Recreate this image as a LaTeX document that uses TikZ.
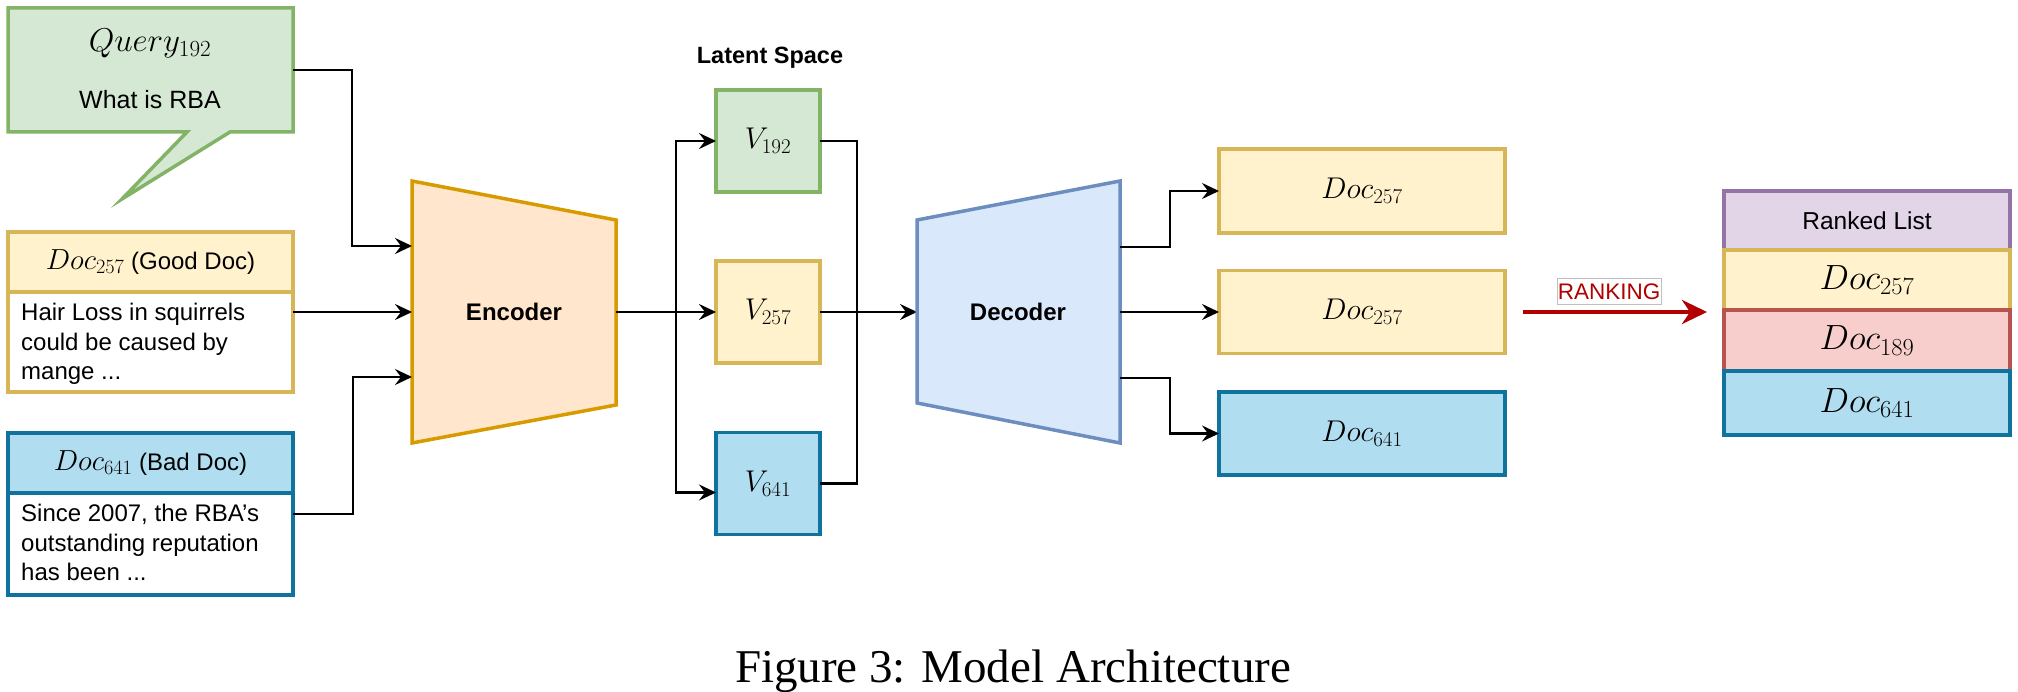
\RequirePackage{fix-cm}
\documentclass[tikz,border=0pt]{standalone}
\usepackage[no-math]{fontspec}
\setmainfont{Liberation Sans}
\newfontfamily\capfont{Liberation Serif}
\usetikzlibrary{arrows.meta,calc}

\definecolor{grnF}{HTML}{D5E8D4}\definecolor{grnS}{HTML}{82B366}
\definecolor{ylwF}{HTML}{FFF2CC}\definecolor{ylwS}{HTML}{D6B656}
\definecolor{bluF}{HTML}{B1DDF0}\definecolor{bluS}{HTML}{10739E}
\definecolor{encF}{HTML}{FFE6CC}\definecolor{encS}{HTML}{D79B00}
\definecolor{decF}{HTML}{DAE8FC}\definecolor{decS}{HTML}{6C8EBF}
\definecolor{purF}{HTML}{E1D5E7}\definecolor{purS}{HTML}{9673A6}
\definecolor{redF}{HTML}{F8CECC}\definecolor{redS}{HTML}{B85450}
\definecolor{rankR}{HTML}{B20000}

\tikzset{
  conn/.style={line width=2.5pt, -{Stealth[length=17pt,width=16pt,inset=6pt]}},
  plainln/.style={line width=2.5pt},
  boxst/.style={draw, line width=3.5pt, inner sep=0pt, outer sep=0pt},
  txt/.style={font={\fontsize{24}{29.5}\selectfont}},
  mth/.style={font={\fontsize{30}{36}\selectfont}},
  bigmth/.style={font={\fontsize{35}{42}\selectfont}},
  boldlab/.style={font={\bfseries\fontsize{24}{29}\selectfont}},
  shapeln/.style={line width=3.5pt, line join=miter},
}

\begin{document}
\begin{tikzpicture}[x=1pt,y=-1pt]
\useasboundingbox (0,0) rectangle (2018,692);

% ---------- query callout ----------
\node[minimum width=285, minimum height=124, inner sep=0pt, outer sep=0pt] (query) at (150.5,70) {};
\draw[shapeln, draw=grnS, fill=grnF] (query.north west) -- (query.north east) -- (query.south east)
   -- (230,132) -- (122,199) -- (187,132) -- (query.south west) -- cycle;
\node[font={\fontsize{33}{40}\selectfont}] (qtitle) at (150,43) {$Query_{192}$};
\node[font={\fontsize{25}{30}\selectfont}] (qtext) at (150,100) {What is RBA};

% ---------- good doc ----------
\node[boxst, draw=ylwS, fill=ylwF, minimum width=285, minimum height=60, txt] (goodH) at (150.5,262)
   {{\fontsize{29}{35}\selectfont$Doc_{257}$} (Good Doc)};
\node[boxst, draw=ylwS, fill=white, minimum width=285, minimum height=100] (goodB) at (150.5,342) {};
\node[txt, anchor=north west, align=left, inner sep=0pt] (goodT) at (21,303)
   {Hair Loss in squirrels\\could be caused by\\mange ...};

% ---------- bad doc ----------
\node[boxst, draw=bluS, fill=bluF, minimum width=285, minimum height=60, txt] (badH) at (150.5,463)
   {{\fontsize{29}{35}\selectfont$Doc_{641}$} (Bad Doc)};
\node[boxst, draw=bluS, fill=white, minimum width=285, minimum height=102] (badB) at (150.5,544) {};
\node[txt, anchor=north west, align=left, inner sep=0pt] (badT) at (21,504)
   {Since 2007, the RBA's\\outstanding reputation\\has been ...};

\coordinate (goodOut) at ($(goodH.north east)!0.5!(goodB.south east)$);
\coordinate (badOut) at ($(badH.north east)!0.5!(badB.south east)$);

% ---------- encoder ----------
\draw[shapeln, draw=encS, fill=encF] (412,181) -- (616,220) -- (616,405) -- (412,443) -- cycle;
\node[boldlab] (enc) at (514,312) {Encoder};
\coordinate (encIn1) at (412,246);
\coordinate (encIn2) at (412,312);
\coordinate (encIn3) at (412,377);
\coordinate (encOut) at (616,312);

\draw[conn] (query.east) -- ++(59,0) |- (encIn1);
\draw[conn] (goodOut) -- (encIn2);
\draw[conn] (badOut) -- ++(60,0) |- (encIn3);

% ---------- latent space ----------
\node[font={\bfseries\fontsize{23.5}{28}\selectfont}] (lat) at (770,58) {Latent Space};
\node[boxst, draw=grnS, fill=grnF, minimum width=104, minimum height=102, mth] (v192) at (768,141) {$V_{192}$};
\node[boxst, draw=ylwS, fill=ylwF, minimum width=104, minimum height=102, mth] (v257) at (768,312) {$V_{257}$};
\node[boxst, draw=bluS, fill=bluF, minimum width=104, minimum height=102, mth] (v641) at (768,483.5) {$V_{641}$};

\draw[conn] (encOut) -- ++(60,0) |- (v192.west);
\draw[conn] (encOut) -- (v257.west);
\draw[conn] (encOut) -- ++(60,0) |- ([yshift=-9pt]v641.west);

\coordinate (decIn) at (917,312);
\draw[plainln] (v192.east) -- ++(37,0) |- (v641.east);
\draw[conn] (v257.east) -- (decIn);

% ---------- decoder ----------
\draw[shapeln, draw=decS, fill=decF] (917,220) -- (1120,181) -- (1120,443) -- (917,403) -- cycle;
\node[boldlab] (dec) at (1018,312) {Decoder};
\coordinate (decOut1) at (1120,247);
\coordinate (decOut2) at (1120,312);
\coordinate (decOut3) at (1120,378);

\node[boxst, draw=ylwS, fill=ylwF, minimum width=286, minimum height=84, mth] (o1) at (1362,191) {$Doc_{257}$};
\node[boxst, draw=ylwS, fill=ylwF, minimum width=286, minimum height=83, mth] (o2) at (1362,312) {$Doc_{257}$};
\node[boxst, draw=bluS, fill=bluF, minimum width=286, minimum height=83, mth] (o3) at (1362,433.5) {$Doc_{641}$};

\draw[conn] (decOut1) -- ++(50,0) |- (o1.west);
\draw[conn] (decOut2) -- (o2.west);
\draw[conn] (decOut3) -- ++(50,0) |- (o3.west);

% ---------- ranked list ----------
\node[boxst, draw=purS, fill=purF, minimum width=286, minimum height=59, font={\fontsize{24.5}{29}\selectfont}] (r0) at (1867,220.5) {Ranked List};
\node[boxst, draw=ylwS, fill=ylwF, minimum width=286, minimum height=60, bigmth] (r1) at (1867,280) {$Doc_{257}$};
\node[boxst, draw=redS, fill=redF, minimum width=286, minimum height=61, bigmth] (r2) at (1867,340.5) {$Doc_{189}$};
\node[boxst, draw=bluS, fill=bluF, minimum width=286, minimum height=64, bigmth] (r3) at (1867,403) {$Doc_{641}$};

% ---------- ranking arrow ----------
\draw[rankR, line width=4pt, shorten <=18pt, shorten >=17pt,
      -{Stealth[length=25pt,width=24pt,inset=8pt]}] (o2.east) -- (o2.east -| r0.west);
\node[draw=black!25, line width=1pt, fill=white, text=rankR, font={\fontsize{22.5}{26}\selectfont},
      inner sep=0pt, minimum width=104, minimum height=26] (rklab) at (1609,292) {RANKING};

% ---------- caption ----------
\node[font={\capfont\fontsize{47}{56}\selectfont}, anchor=base] (cap) at (1013,682) {Figure 3: Model Architecture};
\end{tikzpicture}
\end{document}
